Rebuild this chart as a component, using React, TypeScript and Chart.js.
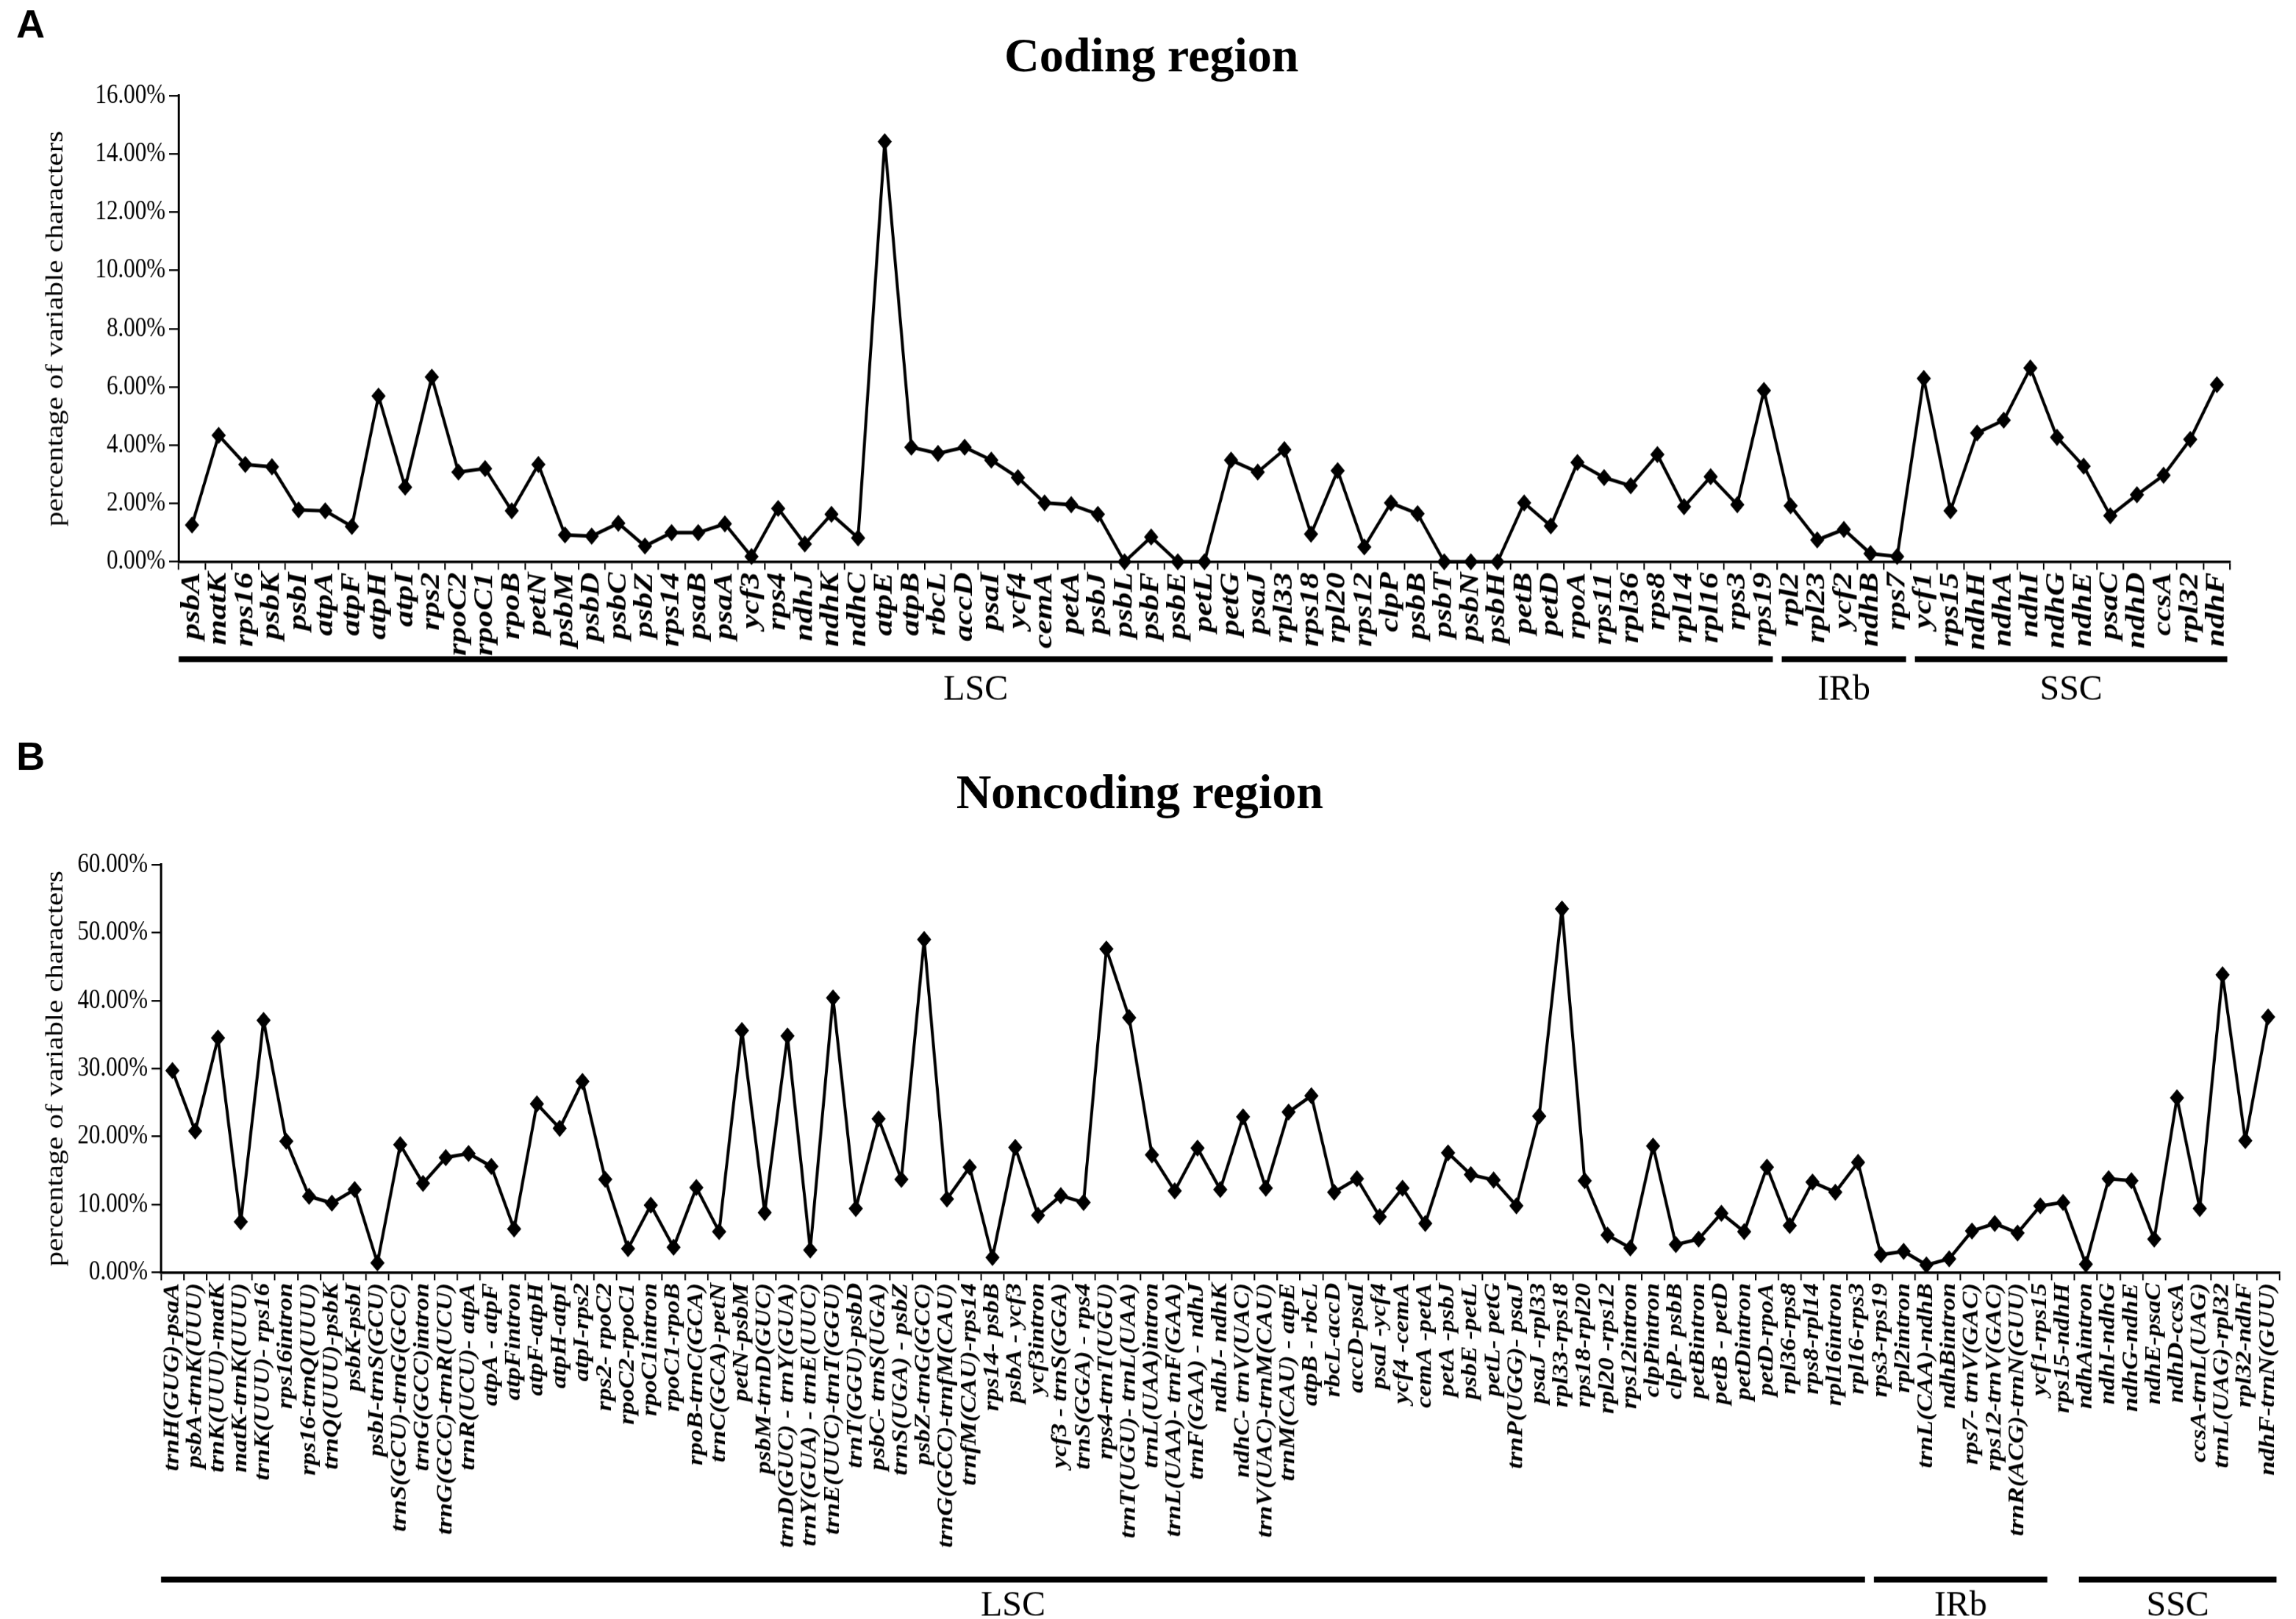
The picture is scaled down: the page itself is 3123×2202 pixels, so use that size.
import React, { useEffect, useRef } from 'react';
import { Chart, registerables } from 'chart.js';

Chart.register(...registerables);

// ---------- DATA ----------
const codingGenes = [
  'psbA', 'matK', 'rps16', 'psbK', 'psbI', 'atpA', 'atpF', 'atpH', 'atpI', 'rps2',
  'rpoC2', 'rpoC1', 'rpoB', 'petN', 'psbM', 'psbD', 'psbC', 'psbZ', 'rps14', 'psaB',
  'psaA', 'ycf3', 'rps4', 'ndhJ', 'ndhK', 'ndhC', 'atpE', 'atpB', 'rbcL', 'accD',
  'psaI', 'ycf4', 'cemA', 'petA', 'psbJ', 'psbL', 'psbF', 'psbE', 'petL', 'petG',
  'psaJ', 'rpl33', 'rps18', 'rpl20', 'rps12', 'clpP', 'psbB', 'psbT', 'psbN', 'psbH',
  'petB', 'petD', 'rpoA', 'rps11', 'rpl36', 'rps8', 'rpl14', 'rpl16', 'rps3', 'rps19',
  'rpl2', 'rpl23', 'ycf2', 'ndhB', 'rps7', 'ycf1', 'rps15', 'ndhH', 'ndhA', 'ndhI',
  'ndhG', 'ndhE', 'psaC', 'ndhD', 'ccsA', 'rpl32', 'ndhF',
];

const codingValues = [
  1.26, 4.34, 3.34, 3.26, 1.78, 1.75, 1.21, 5.69, 2.56, 6.34,
  3.08, 3.2, 1.75, 3.34, 0.92, 0.88, 1.32, 0.54, 1.0, 1.0,
  1.3, 0.18, 1.83, 0.61, 1.63, 0.82, 14.42, 3.93, 3.72, 3.93,
  3.49, 2.89, 2.02, 1.96, 1.63, 0, 0.85, 0, 0, 3.49,
  3.08, 3.85, 0.95, 3.13, 0.51, 2.02, 1.65, 0, 0, 0,
  2.02, 1.23, 3.41, 2.89, 2.61, 3.68, 1.89, 2.92, 1.96, 5.88,
  1.92, 0.75, 1.11, 0.28, 0.18, 6.29, 1.75, 4.42, 4.86, 6.65,
  4.27, 3.28, 1.58, 2.3, 2.97, 4.2, 6.08,
];

const noncodingRegions = [
  'trnH(GUG)-psaA', 'psbA-trnK(UUU)', 'trnK(UUU)-matK', 'matK-trnK(UUU)', 'trnK(UUU)- rps16',
  'rps16intron', 'rps16-trnQ(UUU)', 'trnQ(UUU)-psbK', 'psbK-psbI', 'psbI-trnS(GCU)',
  'trnS(GCU)-trnG(GCC)', 'trnG(GCC)intron', 'trnG(GCC)-trnR(UCU)', 'trnR(UCU)- atpA', 'atpA - atpF',
  'atpFintron', 'atpF-atpH', 'atpH-atpI', 'atpI-rps2', 'rps2- rpoC2',
  'rpoC2-rpoC1', 'rpoC1intron', 'rpoC1-rpoB', 'rpoB-trnC(GCA)', 'trnC(GCA)-petN',
  'petN-psbM', 'psbM-trnD(GUC)', 'trnD(GUC) - trnY(GUA)', 'trnY(GUA) - trnE(UUC)', 'trnE(UUC)-trnT(GGU)',
  'trnT(GGU)-psbD', 'psbC- trnS(UGA)', 'trnS(UGA) - psbZ', 'psbZ-trnG(GCC)', 'trnG(GCC)-trnfM(CAU)',
  'trnfM(CAU)-rps14', 'rps14- psbB', 'psbA - ycf3', 'ycf3intron', 'ycf3 - trnS(GGA)',
  'trnS(GGA) - rps4', 'rps4-trnT(UGU)', 'trnT(UGU)- trnL(UAA)', 'trnL(UAA)intron', 'trnL(UAA)- trnF(GAA)',
  'trnF(GAA) - ndhJ', 'ndhJ- ndhK', 'ndhC- trnV(UAC)', 'trnV(UAC)-trnM(CAU)', 'trnM(CAU) - atpE',
  'atpB - rbcL', 'rbcL-accD', 'accD-psaI', 'psaI -ycf4', 'ycf4 -cemA',
  'cemA -petA', 'petA -psbJ', 'psbE -petL', 'petL- petG', 'trnP(UGG)- psaJ',
  'psaJ -rpl33', 'rpl33-rps18', 'rps18-rpl20', 'rpl20 -rps12', 'rps12intron',
  'clpPintron', 'clpP- psbB', 'petBintron', 'petB - petD', 'petDintron',
  'petD-rpoA', 'rpl36-rps8', 'rps8-rpl14', 'rpl16intron', 'rpl16-rps3',
  'rps3-rps19', 'rpl2intron', 'trnL(CAA)-ndhB', 'ndhBintron', 'rps7- trnV(GAC)',
  'rps12-trnV(GAC)', 'trnR(ACG)-trnN(GUU)', 'ycf1-rps15', 'rps15-ndhH', 'ndhAintron',
  'ndhI-ndhG', 'ndhG-ndhE', 'ndhE-psaC', 'ndhD-ccsA', 'ccsA-trnL(UAG)',
  'trnL(UAG)-rpl32', 'rpl32-ndhF', 'ndhF-trnN(GUU)',
];

const noncodingValues = [
  29.7, 20.8, 34.5, 7.45, 37.1, 19.3, 11.2, 10.2, 12.2, 1.4,
  18.8, 13.1, 16.9, 17.5, 15.6, 6.4, 24.8, 21.2, 28.1, 13.7,
  3.5, 9.9, 3.7, 12.5, 6.0, 35.6, 8.8, 34.8, 3.3, 40.4,
  9.4, 22.6, 13.7, 49.0, 10.8, 15.5, 2.2, 18.4, 8.4, 11.3,
  10.3, 47.6, 37.5, 17.3, 12.0, 18.3, 12.2, 22.9, 12.4, 23.6,
  26.0, 11.8, 13.8, 8.2, 12.4, 7.2, 17.6, 14.4, 13.6, 9.8,
  23.0, 53.5, 13.5, 5.5, 3.6, 18.6, 4.1, 4.9, 8.7, 6.0,
  15.5, 6.9, 13.3, 11.8, 16.2, 2.6, 3.1, 1.1, 2.0, 6.1,
  7.2, 5.8, 9.8, 10.3, 1.2, 13.8, 13.5, 4.9, 25.7, 9.4,
  43.8, 19.4, 37.6,
];

const regionNames = ['LSC', 'IRb', 'SSC'];
const codingRegionFirst = ['psbA', 'rpl2', 'ycf1'];
const codingRegionLast = ['rps19', 'rps7', 'ndhF'];
const noncodingRegionFirst = ['trnH(GUG)-psaA', 'rps3-rps19', 'ndhAintron'];
const noncodingRegionLast = ['rpl16-rps3', 'ycf1-rps15', 'ndhF-trnN(GUU)'];

const yAxisTitle = 'percentage of variable characters';

// ---------- LAYOUT ----------
const W = 3123;
const K = 1.2; // vertical stretch of the chart drawing (tall, narrow lettering)
const SERIF = '"Liberation Serif", "Times New Roman", serif';

type Panel = {
  letter: string;
  title: string;
  labels: string[];
  values: number[];
  first: string[];
  last: string[];
  yMax: number;
  yStep: number;
  top: number;
  height: number;
  plotLeft: number;
  plotRight: number;
  plotTop: number;
  plotBottom: number;
  padLeft: number;
  titleX: number;
  titleY: number;
  letterY: number;
  labelSize: number;
  barY: number;
  regionLabelY: number;
  pointRadius: number;
  gap: number;
};

const panels: Panel[] = [
  {
    letter: 'A', title: 'Coding region', labels: codingGenes, values: codingValues,
    first: codingRegionFirst, last: codingRegionLast, yMax: 16, yStep: 2,
    top: 0, height: 1000, plotLeft: 243, plotRight: 3033, plotTop: 130, plotBottom: 764,
    padLeft: 56, titleX: 1566, titleY: 80, letterY: 36, labelSize: 37, barY: 896,
    regionLabelY: 914, pointRadius: 9, gap: 6,
  },
  {
    letter: 'B', title: 'Noncoding region', labels: noncodingRegions, values: noncodingValues,
    first: noncodingRegionFirst, last: noncodingRegionLast, yMax: 60, yStep: 10,
    top: 1000, height: 1202, plotLeft: 219, plotRight: 3118, plotTop: 176, plotBottom: 730,
    padLeft: 56, titleX: 1550, titleY: 82, letterY: 32, labelSize: 29.5, barY: 1148,
    regionLabelY: 1160, pointRadius: 9, gap: 6,
  },
];

function drawText(ctx: CanvasRenderingContext2D, text: string, x: number, yActual: number) {
  ctx.save();
  ctx.translate(x, yActual / K);
  ctx.scale(1, 1 / K);
  ctx.fillText(text, 0, 0);
  ctx.restore();
}

function makeDeco(p: Panel) {
  return {
    id: 'deco' + p.letter,
    afterDraw(chart: any) {
      const ctx = chart.ctx as CanvasRenderingContext2D;
      const xs = chart.scales.x;
      ctx.save();
      ctx.fillStyle = '#000';
      ctx.font = 'bold 54px "Liberation Sans", Arial, sans-serif';
      ctx.textAlign = 'left';
      ctx.textBaseline = 'middle';
      drawText(ctx, p.letter, 22, p.letterY);
      ctx.font = `bold 66px ${SERIF}`;
      ctx.textAlign = 'center';
      drawText(ctx, p.title, p.titleX, p.titleY);
      const half = (xs.getPixelForValue(1) - xs.getPixelForValue(0)) / 2;
      regionNames.forEach((name, r) => {
        const i0 = p.labels.indexOf(p.first[r]);
        const i1 = p.labels.indexOf(p.last[r]);
        const x0 = i0 === 0 ? xs.left : xs.getPixelForValue(i0) - half + p.gap;
        const x1 = i1 === p.labels.length - 1 ? xs.right - 4 : xs.getPixelForValue(i1) + half - p.gap;
        ctx.fillRect(x0, (p.barY - 4) / K, x1 - x0, 8 / K);
        ctx.font = `48px ${SERIF}`;
        ctx.textAlign = 'center';
        ctx.textBaseline = 'top';
        drawText(ctx, name, (x0 + x1) / 2, p.regionLabelY);
      });
      ctx.restore();
    },
  };
}

function PanelChart({ p }: { p: Panel }) {
  const ref = useRef<HTMLCanvasElement | null>(null);
  const innerH = Math.round(p.height / K);
  useEffect(() => {
    if (!ref.current) return;
    const chart = new Chart(ref.current, {
      type: 'line',
      data: {
        labels: p.labels,
        datasets: [
          {
            data: p.values,
            borderColor: '#000',
            backgroundColor: '#000',
            borderWidth: 4,
            borderJoinStyle: 'round',
            borderCapStyle: 'round',
            pointStyle: 'rectRot',
            pointRadius: p.pointRadius,
            pointBackgroundColor: '#000',
            pointBorderColor: '#000',
            pointBorderWidth: 1,
            tension: 0,
            clip: false as any,
          },
        ],
      },
      options: {
        responsive: false,
        animation: false,
        devicePixelRatio: K,
        layout: { padding: { left: p.padLeft, top: p.plotTop / K, right: W - p.plotRight, bottom: 0 } },
        plugins: { legend: { display: false }, tooltip: { enabled: false }, title: { display: false } },
        scales: {
          x: {
            type: 'category',
            offset: true,
            grid: { offset: true, drawOnChartArea: false, drawTicks: true, tickLength: 9, color: '#000', lineWidth: 2 },
            border: { display: true, color: '#000', width: 3 },
            ticks: {
              autoSkip: false,
              maxRotation: 90,
              minRotation: 90,
              padding: 3,
              color: '#000',
              font: { family: SERIF, size: p.labelSize, style: 'italic', weight: 'bold' },
            },
            afterFit: (s: any) => { s.height = (p.height - p.plotBottom) / K; },
          },
          y: {
            min: 0,
            max: p.yMax,
            ticks: {
              stepSize: p.yStep,
              color: '#000',
              padding: 5,
              font: { family: SERIF, size: 31 },
              callback: (v: any) => Number(v).toFixed(2) + '%',
            },
            grid: { drawOnChartArea: false, drawTicks: true, tickLength: 13, color: '#000', lineWidth: 2 },
            border: { display: true, color: '#000', width: 3 },
            title: { display: true, text: yAxisTitle, color: '#000', font: { family: SERIF, size: 34 }, padding: 0 },
            afterFit: (s: any) => { s.width = p.plotLeft - p.padLeft; },
          },
        },
      } as any,
      plugins: [makeDeco(p)],
    });
    return () => chart.destroy();
  }, [p]);
  return (
    <div
      style={{
        position: 'absolute', left: 0, top: p.top, width: W, height: innerH,
        transform: `scaleY(${K})`, transformOrigin: 'top left',
      }}
    >
      <canvas
        ref={ref}
        width={W}
        height={innerH}
        style={{ display: 'block', width: W, height: innerH }}
      />
    </div>
  );
}

export default function App() {
  return (
    <div style={{ position: 'absolute', left: 0, top: 0, width: W, height: 2202, background: '#fff', overflow: 'hidden' }}>
      {panels.map((p) => (
        <PanelChart key={p.letter} p={p} />
      ))}
    </div>
  );
}
